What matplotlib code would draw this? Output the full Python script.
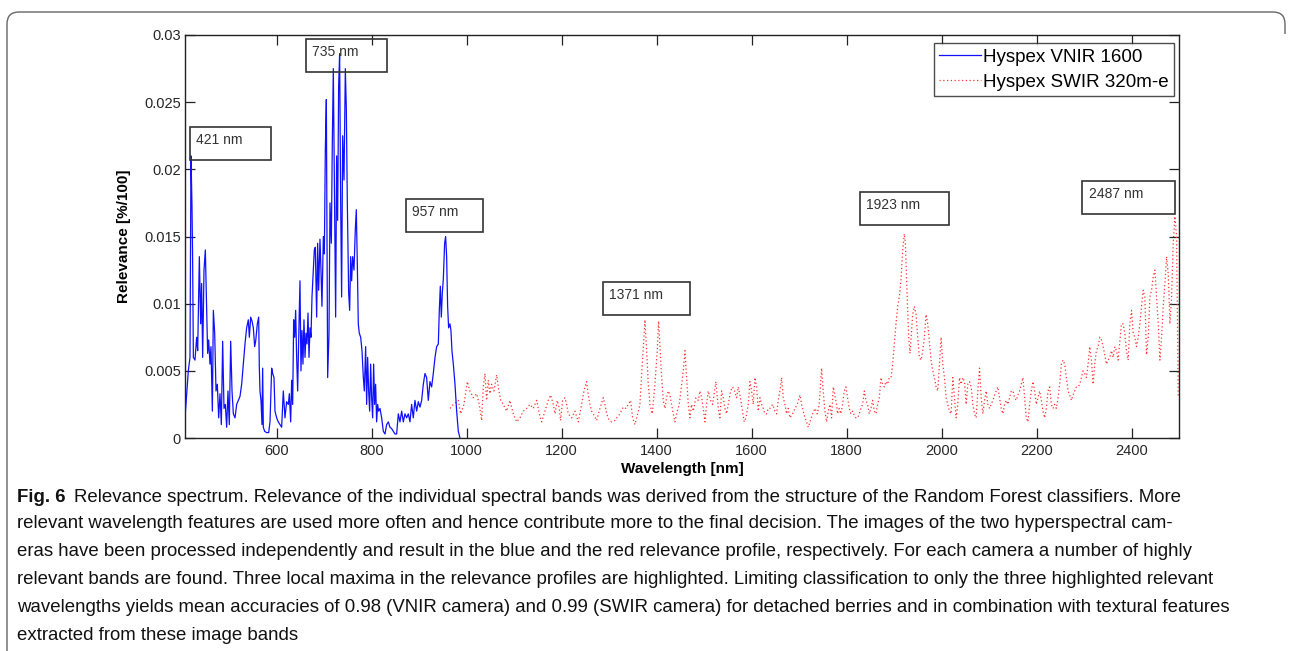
import matplotlib
matplotlib.use("Agg")
import matplotlib.pyplot as plt
from matplotlib.patches import Rectangle, PathPatch
from matplotlib.path import Path
from matplotlib import font_manager as fm
import numpy as np

# ---------------- data ----------------
blue_wl = [408, 414, 417.5, 419.6, 421.7, 423, 424.6, 428, 431.6, 433.7,
           437.2, 440, 442, 444.2, 447, 449.8, 452.6, 454.7, 456.8, 459.6,
           461.7, 464.6, 466.7, 469.5, 472.3, 475.1, 477.9, 480.7, 483.5, 486.3,
           489.1, 491.9, 494.7, 497.5, 500.3, 503.2, 506, 508.8, 512.3, 515.8,
           519.3, 522.8, 526.3, 529.8, 533.3, 536.8, 540.3, 542.5, 545.3, 548.1,
           550.9, 553.7, 555.8, 559.3, 562.1, 563.5, 564.9, 567, 569.1, 570.5,
           571.9, 574.7, 578.9, 583.2, 586, 589.5, 591.6, 594.4, 596.5, 600,
           603.5, 607, 610.5, 614, 617.5, 621, 624.6, 626.7, 629.5, 631.6,
           633.7, 635.8, 637.9, 640, 642.1, 644.2, 646.3, 649.1, 651.2, 653.3,
           655.4, 657.5, 659.7, 661.8, 663.9, 666, 668.1, 670.2, 672.3, 674.4,
           677.2, 679.3, 681.4, 684.2, 686.3, 688.4, 691.2, 693.3, 695.4, 698.3,
           700.4, 702.5, 704.6, 707.4, 710.2, 712.3, 715.1, 717.2, 719.3, 722.1,
           724.2, 726.3, 728.4, 730.5, 732.6, 734.7, 736.8, 739, 741.8, 744.6,
           746.7, 748.8, 751.6, 753.7, 755.8, 757.9, 760, 762.8, 765.6, 767.7,
           769.8, 771.9, 774, 776.9, 779.7, 782.5, 784.6, 787.4, 789.5, 791.6,
           793.7, 795.8, 797.9, 800, 802.1, 804.2, 806.3, 808.4, 810.5, 812.6,
           814.7, 817.6, 821.1, 824.6, 828.1, 831.6, 835.1, 838.6, 842.1, 845.6,
           849.1, 852.6, 856.2, 859.7, 863.2, 866.7, 870.2, 873.7, 877.2, 880.7,
           884.2, 887.7, 891.2, 894.8, 898.3, 901.8, 905.3, 908.8, 912.3, 915.8,
           919.3, 922.8, 926.3, 929.8, 933.4, 936.9, 940.4, 942.5, 944.6, 946.7,
           948.8, 950.9, 953.7, 955.8, 957.9, 960, 962.1, 964.9, 967, 969.1,
           972, 975.5, 979, 982.5, 986]
blue_rel = [0.0020, 0.0050, 0.0060, 0.0210, 0.0173, 0.0135, 0.0060, 0.0058, 0.0075, 0.0065,
            0.0135, 0.0085, 0.0115, 0.0060, 0.0125, 0.0140, 0.0095, 0.0063, 0.0073, 0.0055,
            0.0068, 0.0020, 0.0095, 0.0078, 0.0035, 0.0040, 0.0015, 0.0033, 0.0010, 0.0072,
            0.0022, 0.0025, 0.0008, 0.0035, 0.0010, 0.0072, 0.0035, 0.0018, 0.0015, 0.0025,
            0.0028, 0.0031, 0.0040, 0.0055, 0.0070, 0.0082, 0.0088, 0.0075, 0.0090, 0.0087,
            0.0082, 0.0068, 0.0072, 0.0085, 0.0090, 0.0053, 0.0035, 0.0028, 0.0010, 0.0052,
            0.0008, 0.0005, 0.0004, 0.0004, 0.0012, 0.0052, 0.0048, 0.0045, 0.0020, 0.0015,
            0.0012, 0.0010, 0.0008, 0.0035, 0.0015, 0.0027, 0.0025, 0.0033, 0.0012, 0.0043,
            0.0025, 0.0088, 0.0075, 0.0095, 0.0060, 0.0035, 0.0072, 0.0117, 0.0050, 0.0080,
            0.0055, 0.0088, 0.0060, 0.0078, 0.0070, 0.0093, 0.0060, 0.0082, 0.0075, 0.0105,
            0.0125, 0.0140, 0.0142, 0.0090, 0.0145, 0.0110, 0.0148, 0.0125, 0.0098, 0.0150,
            0.0137, 0.0215, 0.0252, 0.0045, 0.0078, 0.0175, 0.0145, 0.0220, 0.0275, 0.0165,
            0.0090, 0.0210, 0.0162, 0.0262, 0.0286, 0.0178, 0.0105, 0.0225, 0.0192, 0.0275,
            0.0245, 0.0175, 0.0108, 0.0095, 0.0135, 0.0117, 0.0135, 0.0125, 0.0155, 0.0170,
            0.0130, 0.0085, 0.0078, 0.0075, 0.0065, 0.0045, 0.0035, 0.0068, 0.0025, 0.0060,
            0.0035, 0.0020, 0.0055, 0.0030, 0.0015, 0.0055, 0.0025, 0.0040, 0.0012, 0.0025,
            0.0020, 0.0022, 0.0015, 0.0005, 0.0003, 0.0010, 0.0012, 0.0008, 0.0007, 0.0005,
            0.0003, 0.0003, 0.0018, 0.0012, 0.0020, 0.0012, 0.0018, 0.0015, 0.0018, 0.0012,
            0.0025, 0.0015, 0.0028, 0.0020, 0.0027, 0.0023, 0.0028, 0.0040, 0.0048, 0.0045,
            0.0028, 0.0042, 0.0038, 0.0048, 0.0060, 0.0068, 0.0070, 0.0095, 0.0113, 0.0090,
            0.0108, 0.0118, 0.0145, 0.0150, 0.0135, 0.0098, 0.0082, 0.0085, 0.0080, 0.0065,
            0.0055, 0.0040, 0.0020, 0.0005, 0.0000]

red_wl = [965, 972, 982.5, 987.4, 994.4, 1001.4, 1007, 1014, 1021.1, 1026.7,
          1031.6, 1035.1, 1038.6, 1042.1, 1045.6, 1049.1, 1052.6, 1057.5, 1063.2, 1066.7,
          1071.6, 1077.2, 1084.2, 1091.2, 1098.3, 1105.3, 1112.3, 1119.3, 1126.3, 1133.3,
          1140.4, 1147.4, 1153, 1157.9, 1164.9, 1171.9, 1176.9, 1182.5, 1186, 1190.9,
          1195.1, 1197.9, 1202.1, 1207, 1210.5, 1214, 1221.1, 1228.1, 1235.1, 1242.1,
          1247, 1252.6, 1256.2, 1259.7, 1263.2, 1268.1, 1273.7, 1280.7, 1287.7, 1291.2,
          1294.8, 1300.4, 1305.3, 1312.3, 1315.8, 1322.8, 1329.8, 1335.5, 1340.4, 1345.3,
          1349.5, 1354.4, 1361.4, 1364.9, 1369.8, 1373.4, 1375.5, 1379, 1382.5, 1386,
          1390.9, 1396.5, 1401.4, 1404.2, 1407, 1410.6, 1414.1, 1417.6, 1421.1, 1424.6,
          1428.1, 1431.6, 1435.1, 1438.6, 1443.5, 1447.7, 1452.7, 1456.2, 1459.7, 1463.2,
          1466.7, 1470.2, 1473.7, 1477.2, 1482.8, 1487.8, 1491.3, 1494.8, 1498.3, 1501.8,
          1505.3, 1508.8, 1513.7, 1517.9, 1520.7, 1524.9, 1529.9, 1533.4, 1536.9, 1540.4,
          1543.9, 1547.4, 1550.9, 1555.8, 1560, 1564.2, 1568.5, 1572, 1575.5, 1581.1,
          1584.6, 1588.1, 1593, 1596.5, 1600, 1603.5, 1607.1, 1610.6, 1614.1, 1617.6,
          1621.1, 1624.6, 1628.1, 1631.6, 1635.1, 1638.6, 1644.3, 1649.2, 1652.7, 1656.2,
          1659.7, 1663.2, 1666.7, 1670.2, 1673.7, 1677.2, 1680.7, 1686.4, 1691.3, 1696.2,
          1701.8, 1705.3, 1708.8, 1712.3, 1715.8, 1719.3, 1722.9, 1728.5, 1733.4, 1738.3,
          1742.5, 1747.4, 1750.9, 1754.4, 1757.9, 1761.4, 1765, 1768.5, 1772, 1779,
          1781, 1784.5, 1788, 1791.6, 1795.1, 1798.6, 1802.1, 1805.6, 1809.1, 1812.7,
          1816.2, 1819.7, 1823.2, 1826.7, 1830.2, 1833.8, 1837.3, 1840.8, 1844.3, 1847.8,
          1851.3, 1854.9, 1858.4, 1861.9, 1865.4, 1868.9, 1872.5, 1876, 1879.5, 1883,
          1886.5, 1890, 1893.6, 1897.1, 1900.6, 1904.1, 1907.6, 1911.1, 1914.7, 1918.2,
          1921.7, 1923.8, 1926.6, 1928.7, 1930.8, 1933.6, 1936.5, 1939.3, 1942.8, 1946.3,
          1949.8, 1953.3, 1956.9, 1960.4, 1963.9, 1967.4, 1970.9, 1974.4, 1978, 1981.5,
          1985, 1988.5, 1992, 1995.5, 1999.1, 2002.6, 2006.1, 2009.6, 2013.1, 2016.6,
          2020.2, 2023.7, 2027.2, 2030.7, 2034.2, 2037.8, 2041.3, 2044.8, 2048.3, 2051.8,
          2055.3, 2058.9, 2062.4, 2065.9, 2069.4, 2072.9, 2076.4, 2080, 2083.5, 2087,
          2090.5, 2094, 2097.5, 2101.1, 2104.6, 2108.1, 2111.6, 2115.1, 2118.6, 2122.2,
          2125.7, 2129.2, 2132.7, 2136.2, 2139.7, 2143.3, 2146.8, 2150.3, 2153.8, 2157.3,
          2160.8, 2164.4, 2171.4, 2174.9, 2178.4, 2182, 2185.5, 2189, 2192.5, 2196,
          2199.5, 2203.1, 2206.6, 2210.1, 2213.6, 2217.1, 2220.6, 2224.2, 2227.7, 2231.2,
          2234.7, 2238.2, 2241.7, 2245.3, 2248.8, 2252.3, 2255.8, 2259.3, 2262.8, 2266.4,
          2269.9, 2273.4, 2276.9, 2280.4, 2283.9, 2287.5, 2291, 2294.5, 2298, 2301.5,
          2305, 2308.6, 2312.1, 2315.6, 2319.1, 2322.6, 2326.1, 2329.7, 2333.2, 2336.7,
          2340.2, 2343.7, 2347.2, 2350.8, 2354.3, 2357.8, 2361.3, 2364.8, 2368.3, 2371.9,
          2375.4, 2378.9, 2382.4, 2385.9, 2389.4, 2393, 2396.5, 2400, 2403.5, 2407,
          2410.5, 2414.1, 2417.6, 2421.1, 2424.6, 2428.1, 2431.6, 2435.2, 2438.7, 2442.2,
          2445.7, 2449.2, 2452.7, 2456.3, 2459.8, 2463.3, 2466.8, 2470.3, 2473.8, 2477.4,
          2480.9, 2484.4, 2487.9, 2491.4, 2494.9, 2498.4]
red_rel = [0.0022, 0.0025, 0.0028, 0.0018, 0.0025, 0.0042, 0.0035, 0.0030, 0.0033, 0.0025,
           0.0013, 0.0038, 0.0048, 0.0028, 0.0043, 0.0033, 0.0040, 0.0035, 0.0047, 0.0038,
           0.0028, 0.0025, 0.0020, 0.0028, 0.0018, 0.0012, 0.0015, 0.0020, 0.0022, 0.0025,
           0.0022, 0.0028, 0.0018, 0.0012, 0.0020, 0.0028, 0.0032, 0.0025, 0.0018, 0.0028,
           0.0022, 0.0013, 0.0028, 0.0030, 0.0025, 0.0018, 0.0015, 0.0020, 0.0012, 0.0025,
           0.0035, 0.0042, 0.0032, 0.0025, 0.0020, 0.0017, 0.0013, 0.0022, 0.0030, 0.0025,
           0.0018, 0.0013, 0.0012, 0.0013, 0.0015, 0.0018, 0.0023, 0.0022, 0.0025, 0.0028,
           0.0015, 0.0010, 0.0020, 0.0025, 0.0055, 0.0075, 0.0088, 0.0065, 0.0040, 0.0025,
           0.0018, 0.0040, 0.0065, 0.0087, 0.0068, 0.0045, 0.0028, 0.0022, 0.0030, 0.0035,
           0.0032, 0.0025, 0.0018, 0.0012, 0.0020, 0.0025, 0.0040, 0.0050, 0.0065, 0.0045,
           0.0025, 0.0015, 0.0025, 0.0020, 0.0030, 0.0028, 0.0035, 0.0030, 0.0022, 0.0012,
           0.0025, 0.0035, 0.0028, 0.0025, 0.0032, 0.0042, 0.0022, 0.0015, 0.0035, 0.0030,
           0.0022, 0.0018, 0.0025, 0.0035, 0.0038, 0.0035, 0.0030, 0.0038, 0.0032, 0.0020,
           0.0012, 0.0015, 0.0025, 0.0042, 0.0035, 0.0025, 0.0045, 0.0038, 0.0020, 0.0030,
           0.0025, 0.0022, 0.0018, 0.0018, 0.0022, 0.0022, 0.0025, 0.0020, 0.0018, 0.0028,
           0.0035, 0.0045, 0.0030, 0.0025, 0.0018, 0.0022, 0.0015, 0.0018, 0.0022, 0.0025,
           0.0032, 0.0025, 0.0020, 0.0015, 0.0012, 0.0008, 0.0012, 0.0018, 0.0022, 0.0018,
           0.0025, 0.0052, 0.0035, 0.0020, 0.0012, 0.0020, 0.0025, 0.0015, 0.0038, 0.0025,
           0.0018, 0.0022, 0.0018, 0.0025, 0.0035, 0.0038, 0.0030, 0.0022, 0.0018, 0.0020,
           0.0017, 0.0015, 0.0015, 0.0018, 0.0022, 0.0025, 0.0035, 0.0028, 0.0025, 0.0018,
           0.0022, 0.0028, 0.0020, 0.0018, 0.0025, 0.0030, 0.0045, 0.0040, 0.0038, 0.0042,
           0.0040, 0.0045, 0.0045, 0.0055, 0.0070, 0.0085, 0.0098, 0.0105, 0.0118, 0.0140,
           0.0152, 0.0145, 0.0115, 0.0095, 0.0075, 0.0063, 0.0078, 0.0092, 0.0098, 0.0092,
           0.0075, 0.0060, 0.0058, 0.0065, 0.0075, 0.0092, 0.0085, 0.0072, 0.0058, 0.0050,
           0.0045, 0.0038, 0.0035, 0.0055, 0.0075, 0.0055, 0.0045, 0.0030, 0.0025, 0.0020,
           0.0018, 0.0045, 0.0030, 0.0015, 0.0025, 0.0045, 0.0040, 0.0045, 0.0042, 0.0025,
           0.0040, 0.0042, 0.0038, 0.0025, 0.0018, 0.0015, 0.0035, 0.0052, 0.0030, 0.0018,
           0.0028, 0.0035, 0.0025, 0.0022, 0.0025, 0.0028, 0.0032, 0.0035, 0.0038, 0.0030,
           0.0022, 0.0018, 0.0025, 0.0028, 0.0025, 0.0030, 0.0035, 0.0035, 0.0030, 0.0028,
           0.0032, 0.0035, 0.0045, 0.0030, 0.0015, 0.0012, 0.0025, 0.0035, 0.0042, 0.0035,
           0.0025, 0.0030, 0.0035, 0.0028, 0.0020, 0.0015, 0.0022, 0.0035, 0.0038, 0.0025,
           0.0022, 0.0025, 0.0022, 0.0030, 0.0040, 0.0055, 0.0058, 0.0055, 0.0045, 0.0035,
           0.0032, 0.0028, 0.0032, 0.0035, 0.0038, 0.0038, 0.0040, 0.0045, 0.0050, 0.0048,
           0.0045, 0.0055, 0.0068, 0.0058, 0.0040, 0.0055, 0.0065, 0.0068, 0.0075, 0.0073,
           0.0068, 0.0062, 0.0055, 0.0058, 0.0060, 0.0065, 0.0060, 0.0068, 0.0065, 0.0058,
           0.0072, 0.0085, 0.0085, 0.0078, 0.0065, 0.0058, 0.0085, 0.0095, 0.0078, 0.0075,
           0.0068, 0.0075, 0.0085, 0.0098, 0.0110, 0.0105, 0.0062, 0.0075, 0.0105, 0.0110,
           0.0120, 0.0125, 0.0105, 0.0085, 0.0058, 0.0075, 0.0098, 0.0115, 0.0135, 0.0122,
           0.0085, 0.0105, 0.0145, 0.0165, 0.0150, 0.0030]

series_names = ["Hyspex VNIR 1600", "Hyspex SWIR 320m-e"]
peak_labels = ["421 nm", "735 nm", "957 nm", "1371 nm", "1923 nm", "2487 nm"]
x_ticks = [600, 800, 1000, 1200, 1400, 1600, 1800, 2000, 2200, 2400]
y_ticks = [0, 0.005, 0.01, 0.015, 0.02, 0.025, 0.03]
y_tick_labels = ["0", "0.005", "0.01", "0.015", "0.02", "0.025", "0.03"]
x_label = "Wavelength [nm]"
y_label = "Relevance [%/100]"
caption_bold = "Fig. 6"
caption_lines = [
    "Relevance spectrum. Relevance of the individual spectral bands was derived from the structure of the Random Forest classifiers. More",
    "relevant wavelength features are used more often and hence contribute more to the final decision. The images of the two hyperspectral cam-",
    "eras have been processed independently and result in the blue and the red relevance profile, respectively. For each camera a number of highly",
    "relevant bands are found. Three local maxima in the relevance profiles are highlighted. Limiting classification to only the three highlighted relevant",
    "wavelengths yields mean accuracies of 0.98 (VNIR camera) and 0.99 (SWIR camera) for detached berries and in combination with textural features",
    "extracted from these image bands",
]

# ---------------- layout ----------------
W, H = 1292, 651
fig = plt.figure(figsize=(W / 100, H / 100), dpi=100)
fig.patch.set_facecolor("white")

def px_box(l, t, r, b):
    return [l / W, 1 - b / H, (r - l) / W, (b - t) / H]

ax = fig.add_axes(px_box(185, 35, 1179, 438))
main_font = "Liberation Sans"

ax.plot(blue_wl, blue_rel, color="#1010ff", lw=0.9, label=series_names[0], zorder=3)
ax.plot(red_wl, red_rel, color="#ff3030", lw=0.9, linestyle=(0, (1, 2)),
        label=series_names[1], zorder=2)

ax.set_xlim(407, 2500)
ax.set_ylim(0, 0.03)
ax.set_xticks(x_ticks)
ax.set_xticklabels([str(t) for t in x_ticks], fontsize=10.5, family=main_font, color="#262626")
ax.set_yticks(y_ticks)
ax.set_yticklabels(y_tick_labels, fontsize=10.5, family=main_font, color="#262626")
ax.tick_params(direction="in", top=True, right=True, length=7, width=0.9,
               color="#222222", pad=4)
ax.tick_params(axis="y", pad=3)
for s in ax.spines.values():
    s.set_linewidth(1.0)
    s.set_color("#222222")

ax.set_xlabel(x_label, fontsize=11, fontweight="bold", family=main_font, labelpad=3)
ax.set_ylabel(y_label, fontsize=11, fontweight="bold", family=main_font, labelpad=9)

# annotation boxes: (left wl, bottom value, width nm)
box_left = [417.5, 661, 872.8, 1287.5, 1827.8, 2296.6]
box_bottom = [0.0207, 0.02722, 0.01536, 0.00916, 0.01586, 0.01668]
box_width = [170.5, 170.5, 162, 183, 187, 194]
box_height = 0.00246
for lab, l, b, w in zip(peak_labels, box_left, box_bottom, box_width):
    ax.add_patch(Rectangle((l, b), w, box_height, fill=False, edgecolor="#333333",
                           lw=1.2, zorder=5, clip_on=False))
    ax.annotate(lab, xy=(l, b + box_height), xytext=(4.5, -9.3), textcoords="offset points",
                ha="left", va="center", fontsize=10, family=main_font, color="#333333",
                zorder=6)

leg = ax.legend(loc="upper right", bbox_to_anchor=(1 - 5 / 994, 1 - 8 / 403),
                borderaxespad=0, fancybox=False, frameon=True, handlelength=2.2,
                handletextpad=0.12, labelspacing=0.42, borderpad=0.3,
                prop={"family": main_font, "size": 13.5})
leg.get_frame().set_edgecolor("#222222")
leg.get_frame().set_linewidth(1.0)

# ---------------- card border (left + top, rounded corners) ----------------
r = 12
verts = [(7, H), (7, 12 + r), (7, 12), (7 + r, 12), (1285 - r, 12), (1285, 12),
         (1285, 12 + r), (1285, 34)]
codes = [Path.MOVETO, Path.LINETO, Path.CURVE3, Path.CURVE3, Path.LINETO,
         Path.CURVE3, Path.CURVE3, Path.LINETO]
verts_fig = [(x / W, 1 - y / H) for x, y in verts]
fig.add_artist(PathPatch(Path(verts_fig, codes), transform=fig.transFigure,
                         fill=False, edgecolor="#666666", lw=1.0))

# ---------------- caption ----------------
cap_font = "Liberation Sans"
names = {f.name for f in fm.fontManager.ttflist}
if "Liberation Sans Narrow" in names:
    cap_font = "Liberation Sans Narrow"
line_y = [497, 524, 552, 580, 608, 636]
fig.canvas.draw()
ren = fig.canvas.get_renderer()
# size the caption font so that the long line spans the same width as in the figure
probe = fig.text(0, 0, caption_lines[4], fontsize=10, family=cap_font)
pw = probe.get_window_extent(ren).width
probe.remove()
cap_size = 10 * (1240 - 17) / pw

t0 = fig.text(17 / W, 1 - line_y[0] / H, caption_bold, fontsize=cap_size, fontweight="bold",
              family=cap_font, ha="left", va="center", color="#111111")
bb = t0.get_window_extent(ren)
fig.text((bb.x1 + 8) / W, 1 - line_y[0] / H, caption_lines[0], fontsize=cap_size,
         family=cap_font, ha="left", va="center", color="#111111")
for y, line in zip(line_y[1:], caption_lines[1:]):
    fig.text(17 / W, 1 - y / H, line, fontsize=cap_size, family=cap_font,
             ha="left", va="center", color="#111111")

fig.savefig("out.png", dpi=100)
